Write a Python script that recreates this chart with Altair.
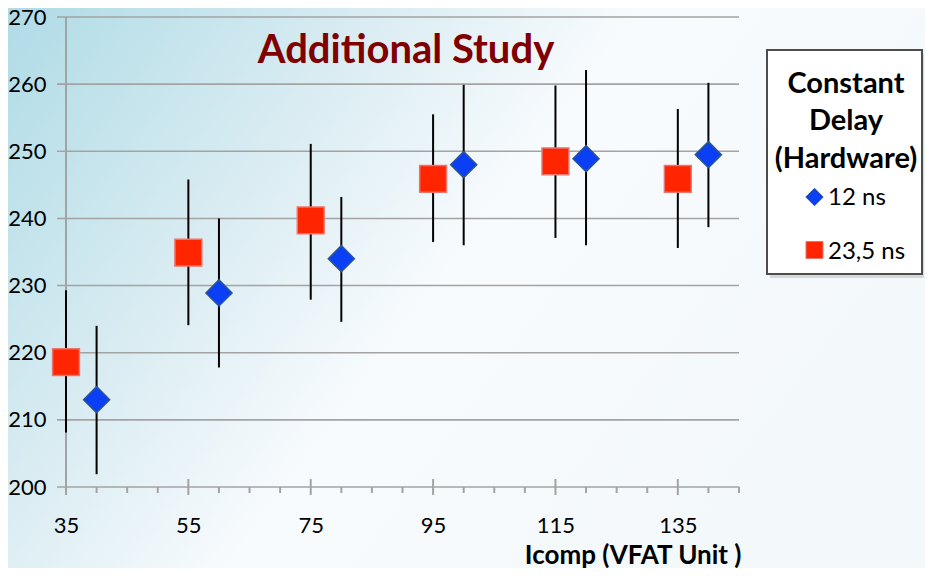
import altair as alt
import pandas as pd

# ---------------- data ----------------
series_names = ["12 ns", "23,5 ns"]

icomp_12 = [40, 60, 80, 100, 120, 140]
mean_12 = [213.0, 228.9, 234.0, 248.0, 248.9, 249.5]
low_12 = [201.9, 217.8, 224.6, 236.0, 236.0, 238.7]
high_12 = [224.0, 240.0, 243.2, 259.9, 262.1, 260.2]

icomp_23 = [35, 55, 75, 95, 115, 135]
mean_23 = [218.6, 234.9, 239.7, 245.9, 248.5, 245.9]
low_23 = [208.1, 224.1, 227.9, 236.5, 237.1, 235.6]
high_23 = [229.3, 245.8, 251.1, 255.5, 259.8, 256.3]

x_major = [35, 55, 75, 95, 115, 135]
x_minor = [40, 45, 50, 60, 65, 70, 80, 85, 90, 100, 105, 110, 120, 125, 130, 140, 145]
y_ticks = [200, 210, 220, 230, 240, 250, 260, 270]

chart_title = "Additional Study"
x_title = "Icomp (VFAT Unit )"
legend_title_lines = ["Constant", "Delay", "(Hardware)"]

# ---------------- tables ----------------
points = pd.DataFrame({
    "icomp": icomp_12 + icomp_23,
    "mean": mean_12 + mean_23,
    "low": low_12 + low_23,
    "high": high_12 + high_23,
    "series": [series_names[0]] * len(icomp_12) + [series_names[1]] * len(icomp_23),
})
major_df = pd.DataFrame({"v": x_major})
minor_df = pd.DataFrame({"v": x_minor})
ytick_df = pd.DataFrame({"v": y_ticks})
one = pd.DataFrame({"a": [0]})

W, H = 673, 470
FONT = "Lato"
GRID = "#a3a3a3"

xs = alt.Scale(domain=[35, 145], nice=False, zero=False)
ys = alt.Scale(domain=[200, 270], nice=False, zero=False)

gradient = alt.LinearGradient(
    gradient="linear",
    stops=[
        alt.GradientStop(color="#afdbe6", offset=0),
        alt.GradientStop(color="#d9ecf2", offset=0.33),
        alt.GradientStop(color="#f8fbfd", offset=0.58),
        alt.GradientStop(color="#f3f8fa", offset=1),
    ],
    x1=0, y1=0, x2=1, y2=0.45,
)

background = alt.Chart(one).mark_rect(color=gradient).encode(
    x=alt.value(-58), x2=alt.value(W + 186), y=alt.value(-9), y2=alt.value(H + 81)
)

gridlines = alt.Chart(ytick_df).mark_rule(color=GRID, strokeWidth=1.6).encode(
    y=alt.Y("v:Q", scale=ys), x=alt.value(-9), x2=alt.value(W)
)

y_domain = alt.Chart(one).mark_rule(color=GRID, strokeWidth=2).encode(
    x=alt.value(0), y=alt.value(0), y2=alt.value(H)
)

major_ticks = alt.Chart(major_df).mark_rule(color=GRID, strokeWidth=2).encode(
    x=alt.X("v:Q", scale=xs), y=alt.value(H - 8), y2=alt.value(H + 8)
)
minor_ticks = alt.Chart(minor_df).mark_rule(color=GRID, strokeWidth=2).encode(
    x=alt.X("v:Q", scale=xs), y=alt.value(H), y2=alt.value(H + 6)
)

base = alt.Chart(points)

errbars = base.mark_rule(color="black", strokeWidth=2).encode(
    x=alt.X("icomp:Q", scale=xs),
    y=alt.Y("low:Q", scale=ys),
    y2="high:Q",
)

markers = base.mark_point(filled=True, opacity=1, strokeWidth=1.5).encode(
    x=alt.X(
        "icomp:Q", scale=xs,
        axis=alt.Axis(
            values=x_major, grid=False, domain=False, ticks=False, tickSize=0,
            labelFontSize=22, labelPadding=28, labelColor="black", labelFont=FONT,
            labelFlush=False,
            title=x_title, titleFontSize=26, titleFontWeight="bold", titleFont=FONT,
            titleColor="black", titleAlign="right", titleAnchor="end",
            titleX=675, titleY=76, titleBaseline="alphabetic", zindex=1,
        ),
    ),
    y=alt.Y(
        "mean:Q", scale=ys,
        axis=alt.Axis(
            values=y_ticks, grid=False, domain=False, ticks=False, tickSize=0,
            labelFontSize=22, labelPadding=20, labelColor="black", labelFont=FONT,
            labelFlush=False,
            title=None, zindex=1,
        ),
    ),
    shape=alt.Shape("series:N", scale=alt.Scale(domain=series_names, range=["diamond", "square"]), legend=None),
    fill=alt.Fill("series:N", scale=alt.Scale(domain=series_names, range=["#0a3ff5", "#ff2500"]), legend=None),
    stroke=alt.Stroke("series:N", scale=alt.Scale(domain=series_names, range=["#2b5590", "#e8766c"]), legend=None),
    size=alt.Size("series:N", scale=alt.Scale(domain=series_names, range=[680, 720]), legend=None),
)

title_text = alt.Chart(one).mark_text(
    text=chart_title, font=FONT, fontSize=40, fontWeight="bold", color="#800000",
    align="center", baseline="alphabetic",
).encode(x=alt.value(340), y=alt.value(45.7))

# ---------------- legend (drawn) ----------------
leg_shadow = alt.Chart(one).mark_rect(color="black", opacity=0.12).encode(
    x=alt.value(704), x2=alt.value(858), y=alt.value(36), y2=alt.value(261)
)
leg_box = alt.Chart(one).mark_rect(fill="white", stroke="#4d4d4d", strokeWidth=2).encode(
    x=alt.value(701), x2=alt.value(856), y=alt.value(33), y2=alt.value(257)
)
leg_title = alt.Chart(one).mark_text(
    text=legend_title_lines, font=FONT, fontSize=29, fontWeight="bold", color="black",
    align="center", baseline="alphabetic", lineHeight=37.5,
).encode(x=alt.value(780), y=alt.value(75.5))

leg_sym_12 = alt.Chart(one).mark_point(
    shape="diamond", filled=True, fill="#0a3ff5", stroke="#2b5590", strokeWidth=1, size=300, opacity=1
).encode(x=alt.value(748.5), y=alt.value(180))
leg_sym_23 = alt.Chart(one).mark_point(
    shape="square", filled=True, fill="#ff2500", stroke="#e8766c", strokeWidth=1, size=290, opacity=1
).encode(x=alt.value(748.5), y=alt.value(233))
leg_lab_12 = alt.Chart(one).mark_text(
    text=series_names[0], font=FONT, fontSize=24, color="black", align="left", baseline="alphabetic"
).encode(x=alt.value(762), y=alt.value(188))
leg_lab_23 = alt.Chart(one).mark_text(
    text=series_names[1], font=FONT, fontSize=24, color="black", align="left", baseline="alphabetic"
).encode(x=alt.value(762), y=alt.value(241.5))

chart = alt.layer(
    background, gridlines, y_domain, major_ticks, minor_ticks,
    errbars, markers, title_text,
    leg_shadow, leg_box, leg_title, leg_sym_12, leg_sym_23, leg_lab_12, leg_lab_23,
).properties(
    width=W, height=H,
    autosize=alt.AutoSizeParams(type="none"),
    padding={"left": 58, "top": 9, "right": 186, "bottom": 81},
).configure_view(stroke=None).configure(font=FONT)

chart.save("out.html", embed_options={"renderer": "svg", "actions": False})
